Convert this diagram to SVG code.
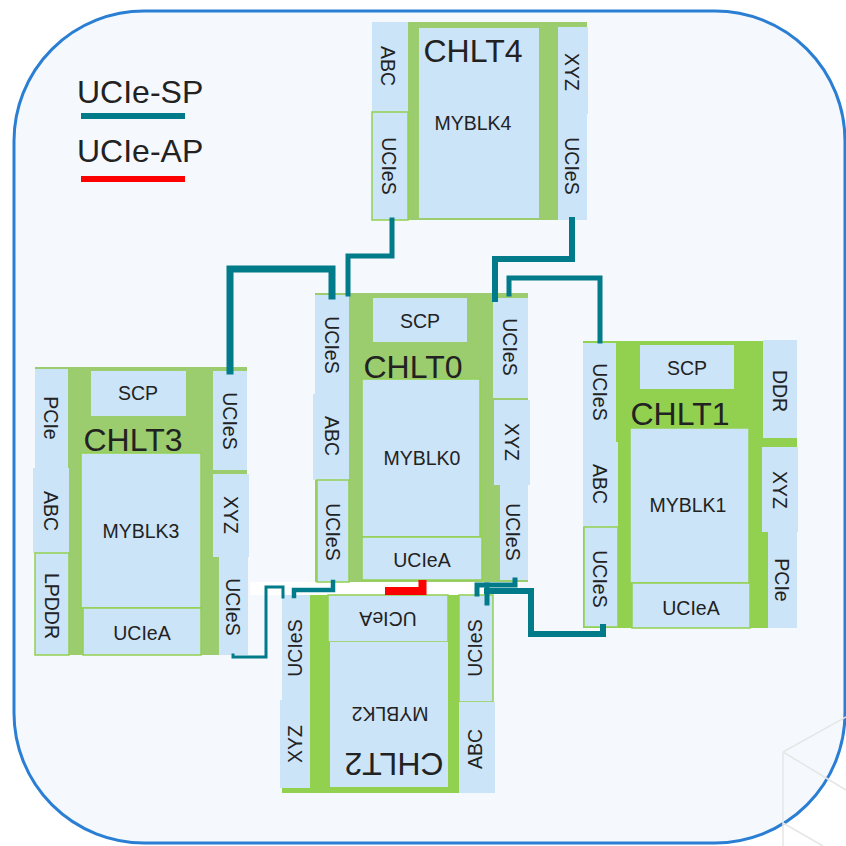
<svg xmlns="http://www.w3.org/2000/svg" width="846" height="846" viewBox="0 0 846 846">
<defs>
<style>
.g{fill:#9bcd6e}
.g2{fill:#92d050}
.b{fill:#cce4f8}
.bs{fill:#cce4f8;stroke:#92d050;stroke-width:1.5}
.t{font-family:"Liberation Sans",Arial,sans-serif;font-size:19.5px;fill:#222;text-anchor:middle}
.s{font-family:"Liberation Sans",Arial,sans-serif;font-size:19.5px;fill:#222;text-anchor:middle;dominant-baseline:central}
.h{font-family:"Liberation Sans",Arial,sans-serif;font-size:32px;fill:#222;text-anchor:middle}
.lg{font-family:"Liberation Sans",Arial,sans-serif;font-size:32px;fill:#222}
.c{fill:none;stroke:#017b8a;stroke-linejoin:miter;stroke-linecap:square}
.cube{fill:none;stroke:#e6e6e6;stroke-width:1.5}
</style>
</defs>
<rect x="0" y="0" width="846" height="846" fill="#ffffff"/>
<rect x="14" y="11" width="831" height="832" rx="130" ry="130" fill="#f5f9fd" stroke="#2a7fd4" stroke-width="3"/>
<g id="cube">
<path class="cube" d="M783,752 L846,717 M783,752 L846,790 M783,752 V846 M783,823 L823,846"/>
</g>
<g id="legend">
<text class="lg" x="77" y="103">UCIe-SP</text>
<line x1="81" y1="116" x2="185" y2="116" stroke="#017b8a" stroke-width="6"/>
<text class="lg" x="77" y="162">UCIe-AP</text>
<line x1="81" y1="179" x2="185" y2="179" stroke="#ff0000" stroke-width="6"/>
</g>
<rect x="250" y="582" width="270" height="13" fill="#ffffff"/>
<g id="chlt4">
<rect class="g" x="408" y="22" width="179" height="198"/>
<rect class="b" x="372" y="22" width="36" height="90"/>
<rect class="bs" x="372" y="112" width="36" height="108"/>
<rect class="b" x="558" y="27" width="30" height="87"/>
<rect class="b" x="558" y="114" width="29" height="106"/>
<rect class="b" x="419" y="28" width="120" height="190"/>
<text class="h" x="473" y="62">CHLT4</text>
<text class="t" x="473" y="130">MYBLK4</text>
<text class="s" x="388" y="66" transform="rotate(90 388 66)">ABC</text>
<text class="s" x="389" y="166" transform="rotate(90 389 166)">UCIeS</text>
<text class="s" x="572" y="72" transform="rotate(90 572 72)">XYZ</text>
<text class="s" x="572" y="166" transform="rotate(90 572 166)">UCIeS</text>
</g>
<g id="chlt0">
<rect class="g" x="315" y="293" width="213" height="289"/>
<rect class="b" x="315" y="295" width="34" height="99"/>
<rect class="b" x="313" y="394" width="36" height="86"/>
<rect class="bs" x="317" y="480" width="32" height="102"/>
<rect class="b" x="493" y="298" width="35" height="100"/>
<rect class="b" x="494" y="400" width="36" height="85"/>
<rect class="b" x="500" y="485" width="28" height="95"/>
<rect class="b" x="373" y="298" width="94" height="44"/>
<rect class="bs" x="362" y="379" width="118" height="158"/>
<rect class="bs" x="362" y="537" width="120" height="43"/>
<text class="t" x="420" y="328">SCP</text>
<text class="h" x="413" y="378">CHLT0</text>
<text class="t" x="422" y="465">MYBLK0</text>
<text class="t" x="422" y="567">UCIeA</text>
<text class="s" x="332" y="345" transform="rotate(90 332 345)">UCIeS</text>
<text class="s" x="332" y="436" transform="rotate(90 332 436)">ABC</text>
<text class="s" x="333" y="532" transform="rotate(90 333 532)">UCIeS</text>
<text class="s" x="510" y="347" transform="rotate(90 510 347)">UCIeS</text>
<text class="s" x="512" y="442" transform="rotate(90 512 442)">XYZ</text>
<text class="s" x="513" y="532" transform="rotate(90 513 532)">UCIeS</text>
</g>
<g id="chlt3">
<rect class="g" x="35" y="367" width="212" height="288"/>
<rect class="b" x="35" y="369" width="33" height="99"/>
<rect class="b" x="33" y="468" width="36" height="85"/>
<rect class="bs" x="35" y="553" width="34" height="102"/>
<rect class="b" x="213" y="371" width="34" height="99"/>
<rect class="b" x="213" y="474" width="36" height="83"/>
<rect class="b" x="219" y="557" width="29" height="98"/>
<rect class="b" x="91" y="371" width="95" height="45"/>
<rect class="bs" x="81" y="453" width="120" height="155"/>
<rect class="bs" x="83" y="608" width="118" height="47"/>
<text class="t" x="138" y="400">SCP</text>
<text class="h" x="133" y="451">CHLT3</text>
<text class="t" x="141" y="538">MYBLK3</text>
<text class="t" x="142" y="640">UCIeA</text>
<text class="s" x="51" y="418" transform="rotate(90 51 418)">PCIe</text>
<text class="s" x="51" y="511" transform="rotate(90 51 511)">ABC</text>
<text class="s" x="52" y="606" transform="rotate(90 52 606)">LPDDR</text>
<text class="s" x="230" y="421" transform="rotate(90 230 421)">UCIeS</text>
<text class="s" x="231" y="515" transform="rotate(90 231 515)">XYZ</text>
<text class="s" x="233" y="607" transform="rotate(90 233 607)">UCIeS</text>
</g>
<g id="chlt1">
<rect class="g2" x="583" y="341" width="214" height="287"/>
<rect class="b" x="583" y="343" width="33" height="99"/>
<rect class="b" x="583" y="442" width="35" height="85"/>
<rect class="bs" x="584" y="527" width="34" height="100"/>
<rect class="b" x="763" y="340" width="34" height="98"/>
<rect class="b" x="762" y="447" width="36" height="85"/>
<rect class="b" x="768" y="532" width="29" height="96"/>
<rect class="b" x="640" y="345" width="94" height="44"/>
<rect class="bs" x="630" y="428" width="119" height="155"/>
<rect class="bs" x="632" y="583" width="118" height="45"/>
<text class="t" x="687" y="375">SCP</text>
<text class="h" x="680" y="425">CHLT1</text>
<text class="t" x="688" y="512">MYBLK1</text>
<text class="t" x="691" y="615">UCIeA</text>
<text class="s" x="600" y="392" transform="rotate(90 600 392)">UCIeS</text>
<text class="s" x="600" y="484" transform="rotate(90 600 484)">ABC</text>
<text class="s" x="600" y="579" transform="rotate(90 600 579)">UCIeS</text>
<text class="s" x="780" y="391" transform="rotate(90 780 391)">DDR</text>
<text class="s" x="780" y="490" transform="rotate(90 780 490)">XYZ</text>
<text class="s" x="782" y="580" transform="rotate(90 782 580)">PCIe</text>
</g>
<g id="chlt2">
<rect class="g2" x="282" y="595" width="211" height="198"/>
<rect class="b" x="282" y="595" width="28" height="105"/>
<rect class="b" x="280" y="700" width="30" height="88"/>
<rect class="bs" x="459" y="595" width="34" height="107"/>
<rect class="b" x="459" y="702" width="36" height="91"/>
<rect class="bs" x="328" y="595" width="120" height="47"/>
<rect class="b" x="330" y="642" width="118" height="145"/>
<text class="t" x="388" y="612" transform="rotate(180 388 612)">UCIeA</text>
<text class="t" x="390" y="707" transform="rotate(180 390 707)">MYBLK2</text>
<text class="h" x="394" y="753" transform="rotate(180 394 753)">CHLT2</text>
<text class="s" x="295" y="648" transform="rotate(-90 295 648)">UCIeS</text>
<text class="s" x="295" y="744" transform="rotate(-90 295 744)">XYZ</text>
<text class="s" x="475" y="648" transform="rotate(-90 475 648)">UCIeS</text>
<text class="s" x="475" y="749" transform="rotate(-90 475 749)">ABC</text>
</g>
<g id="connectors">
<path class="c" stroke-width="7" d="M230,371 V269 H332 V296"/>
<path class="c" stroke-width="5" d="M392,220 V256 H348 V294"/>
<path class="c" stroke-width="6" d="M572,220 V259 H495 V299"/>
<path class="c" stroke-width="5" d="M600,341 V278 H509 V294"/>
<path class="c" stroke-width="3" d="M233,655 V657 H266 V587 H283 V597"/>
<path class="c" stroke-width="4.5" d="M333,582 V590 H294 V596"/>
<path fill="none" stroke="#ff0000" stroke-width="8" d="M422.5,580 V591 H385"/>
<path class="c" stroke-width="5" d="M515,580 V585 H477 V594"/>
<path class="c" stroke-width="5" d="M487,585 V603"/>
<path class="c" stroke-width="6" d="M487,591 H531 V634 H603 V627"/>
</g>
</svg>
